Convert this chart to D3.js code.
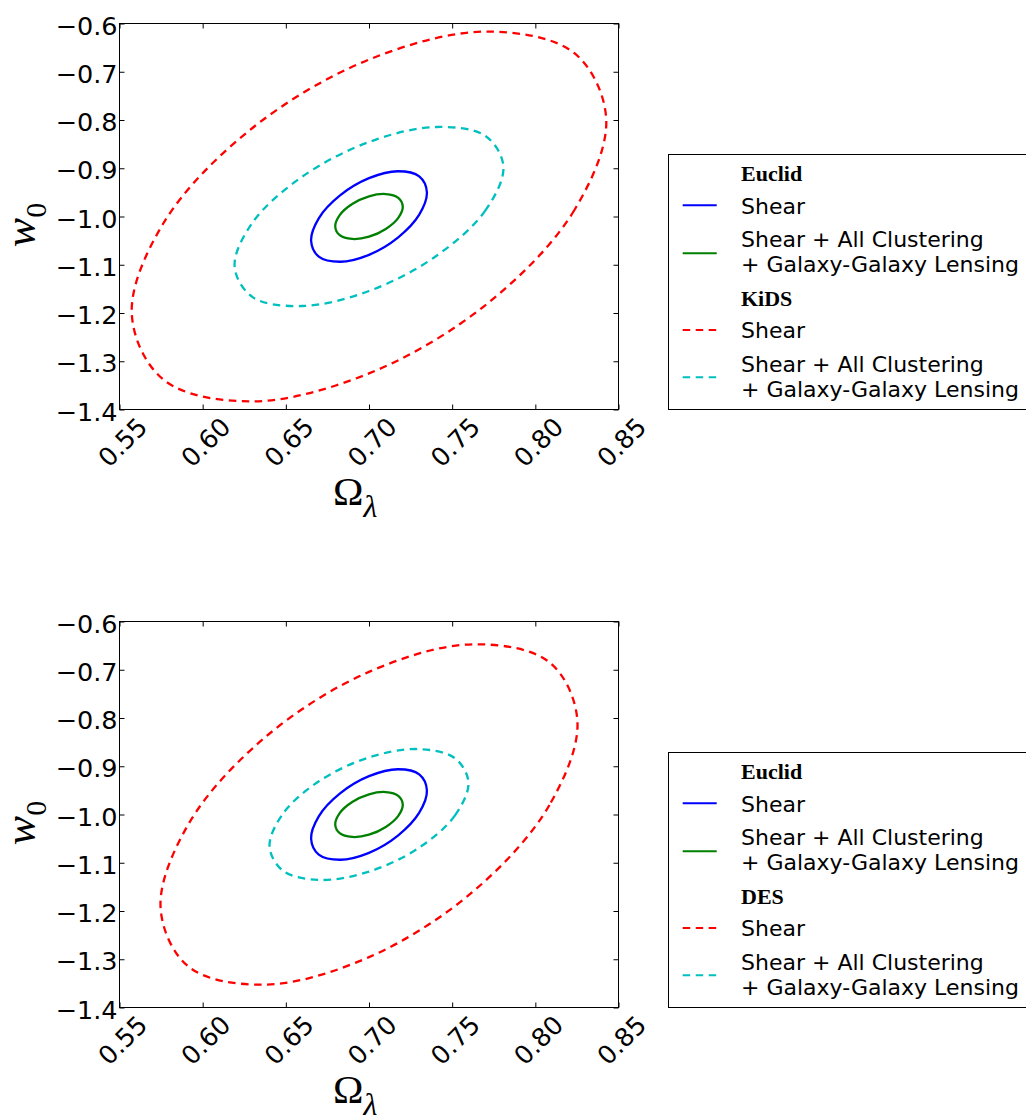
<!DOCTYPE html>
<html><head><meta charset="utf-8">
<script src="https://cdn.jsdelivr.net/npm/d3@7"></script>
<style>body{margin:0;background:#fff}</style>
</head><body>
<svg id="chart" width="1026" height="1117"></svg>
<script>
// ---- data ----
const xTicks = [0.55, 0.60, 0.65, 0.70, 0.75, 0.80, 0.85];
const yTicks = [-0.6, -0.7, -0.8, -0.9, -1.0, -1.1, -1.2, -1.3, -1.4];

// contour points [Omega_lambda, w0]
const euclidShear = [[0.7348,-0.9498],[0.7302,-0.9963],[0.7174,-1.0437],[0.7000,-1.0794],[0.6826,-1.0938],[0.6698,-1.0831],[0.6652,-1.0502],[0.6698,-1.0037],[0.6826,-0.9563],[0.7000,-0.9206],[0.7174,-0.9062],[0.7302,-0.9169]];
const euclidAll = [[0.7203,-0.9793],[0.7176,-1.0029],[0.7101,-1.0258],[0.7000,-1.0418],[0.6899,-1.0465],[0.6824,-1.0388],[0.6797,-1.0207],[0.6824,-0.9971],[0.6899,-0.9742],[0.7000,-0.9582],[0.7101,-0.9535],[0.7176,-0.9612]];

const kidsShear = [[0.8426,-0.7969],[0.8235,-0.9865],[0.7713,-1.1801],[0.7000,-1.3252],[0.6287,-1.3832],[0.5765,-1.3384],[0.5574,-1.2031],[0.5765,-1.0135],[0.6287,-0.8199],[0.7000,-0.6748],[0.7713,-0.6168],[0.8235,-0.6616]];
const kidsAll = [[0.7808,-0.8964],[0.7700,-0.9874],[0.7404,-1.0819],[0.7000,-1.1544],[0.6596,-1.1855],[0.6300,-1.1670],[0.6192,-1.1036],[0.6300,-1.0126],[0.6596,-0.9181],[0.7000,-0.8456],[0.7404,-0.8145],[0.7700,-0.8330]];

const desShear = [[0.8253,-0.8064],[0.8085,-0.9803],[0.7627,-1.1593],[0.7000,-1.2956],[0.6373,-1.3527],[0.5915,-1.3154],[0.5747,-1.1936],[0.5915,-1.0197],[0.6373,-0.8407],[0.7000,-0.7044],[0.7627,-0.6473],[0.8085,-0.6846]];
const desAll = [[0.7598,-0.9336],[0.7517,-1.0017],[0.7299,-1.0693],[0.7000,-1.1183],[0.6701,-1.1356],[0.6483,-1.1166],[0.6402,-1.0664],[0.6483,-0.9983],[0.6701,-0.9307],[0.7000,-0.8817],[0.7299,-0.8644],[0.7517,-0.8834]];

const legendLabels = ["Shear", ["Shear + All Clustering", "+ Galaxy-Galaxy Lensing"]];

// ---- layout ----
const svg = d3.select("#chart");
svg.append("rect").attr("width", 1026).attr("height", 1117).attr("fill", "#fff");

const COLORS = {blue: "#0000ff", green: "#008000", red: "#ff0000", cyan: "#00bfbf"};
const DASH = "7.5,5.5";
const SANS = "'DejaVu Sans', sans-serif";
const SERIF = "'Liberation Serif', 'DejaVu Serif', serif";

const plotL = 119.5, plotR = 618.5, plotH = 386;

const panels = [
  {top: 23.5, survey: "KiDS", shear: kidsShear, all: kidsAll},
  {top: 621.5, survey: "DES", shear: desShear, all: desAll}
];

panels.forEach(p => {
  const top = p.top, bottom = top + plotH;
  const x = d3.scaleLinear().domain([0.55, 0.85]).range([plotL, plotR]);
  const y = d3.scaleLinear().domain([-1.4, -0.6]).range([bottom, top]);
  const g = svg.append("g");

  const line = d3.line().x(d => x(d[0])).y(d => y(d[1])).curve(d3.curveCatmullRomClosed.alpha(0.5));

  const series = [
    {data: p.shear, color: COLORS.red, dash: DASH},
    {data: p.all, color: COLORS.cyan, dash: DASH},
    {data: euclidShear, color: COLORS.blue, dash: null},
    {data: euclidAll, color: COLORS.green, dash: null}
  ];
  g.selectAll("path.contour").data(series).join("path")
    .attr("class", "contour")
    .attr("d", d => line(d.data))
    .attr("fill", "none")
    .attr("stroke", d => d.color)
    .attr("stroke-width", 2.3)
    .attr("stroke-dasharray", d => d.dash);

  // axes with inward ticks on all sides
  const fmtY = d => d3.format(".1f")(d).replace("-", "\u2212");
  const gl = g.append("g").attr("transform", `translate(${plotL},0)`)
    .call(d3.axisLeft(y).tickValues(yTicks).tickSize(-5).tickPadding(2).tickFormat(fmtY));
  gl.select(".domain").remove();
  gl.attr("font-family", SANS).attr("font-size", 25.5);
  gl.selectAll("text").attr("dy", "0.42em").attr("fill", "#000");

  const gb = g.append("g").attr("transform", `translate(0,${bottom})`)
    .call(d3.axisBottom(x).tickValues(xTicks).tickSize(-5).tickFormat(d3.format(".2f")));
  gb.select(".domain").remove();
  gb.attr("font-family", SANS).attr("font-size", 25.5);
  gb.selectAll("text").attr("y", 0).attr("dy", "0.36em")
    .attr("text-anchor", "middle")
    .attr("transform", "translate(2.5,32.5) rotate(-45)")
    .attr("fill", "#000");

  const gt = g.append("g").attr("transform", `translate(0,${top})`)
    .call(d3.axisTop(x).tickValues(xTicks).tickSize(-5).tickFormat(""));
  gt.select(".domain").remove();
  const gr = g.append("g").attr("transform", `translate(${plotR},0)`)
    .call(d3.axisRight(y).tickValues(yTicks).tickSize(-5).tickFormat(""));
  gr.select(".domain").remove();

  g.append("rect").attr("x", plotL).attr("y", top).attr("width", plotR - plotL).attr("height", plotH)
    .attr("fill", "none").attr("stroke", "#000").attr("stroke-width", 1);

  // axis labels
  const xl = g.append("text").attr("x", 333).attr("y", bottom + 95.5).attr("font-family", SERIF).attr("fill", "#000");
  xl.append("tspan").attr("font-size", 41).text("\u03A9");
  xl.append("tspan").attr("font-size", 32).attr("font-style", "italic").attr("dy", 12).text("\u03BB");

  const yl = g.append("text").attr("transform", `translate(34.5,${top + 201.5}) rotate(-90)`)
    .attr("text-anchor", "middle").attr("font-family", SERIF).attr("fill", "#000");
  yl.append("tspan").attr("font-size", 44).attr("font-style", "italic").text("w");
  yl.append("tspan").attr("font-size", 30).attr("dy", 11).text("0");

  // legend
  const lt = top + 131;
  const lg = g.append("g").attr("transform", `translate(668.5,${lt})`);
  lg.append("rect").attr("width", 400).attr("height", 255).attr("fill", "#fff").attr("stroke", "#000").attr("stroke-width", 1);
  const rows = [
    {title: "Euclid", base: 26.2},
    {color: COLORS.blue, dash: null, lineY: 50.8, text: [legendLabels[0]], bases: [59.5]},
    {color: COLORS.green, dash: null, lineY: 98.8, text: legendLabels[1], bases: [92.8, 117.8]},
    {title: p.survey, base: 151.2},
    {color: COLORS.red, dash: DASH, lineY: 175.5, text: [legendLabels[0]], bases: [183.8]},
    {color: COLORS.cyan, dash: DASH, lineY: 222.8, text: legendLabels[1], bases: [217.2, 242.8]}
  ];
  rows.forEach(r => {
    if (r.title) {
      lg.append("text").attr("x", 72.5).attr("y", r.base).attr("font-family", SERIF)
        .attr("font-weight", "bold").attr("font-size", 22).attr("fill", "#000").text(r.title);
    } else {
      lg.append("line").attr("x1", 14.2).attr("x2", 48.2).attr("y1", r.lineY).attr("y2", r.lineY)
        .attr("stroke", r.color).attr("stroke-width", 2).attr("stroke-dasharray", r.dash);
      r.text.forEach((t, i) => {
        lg.append("text").attr("x", 72.5).attr("y", r.bases[i]).attr("font-family", SANS)
          .attr("font-size", 22).attr("fill", "#000").text(t);
      });
    }
  });
});
</script>
</body></html>
